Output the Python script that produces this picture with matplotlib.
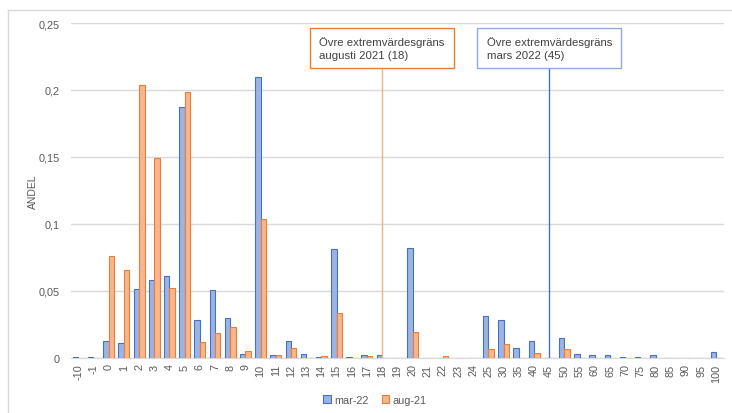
import numpy as np
import matplotlib.pyplot as plt
from matplotlib.patches import Rectangle
from matplotlib.lines import Line2D

plt.rcParams['font.family'] = ['Liberation Sans', 'DejaVu Sans']

# Share per value class, two measurement rounds
categories = ['-10', '-1', '0', '1', '2', '3', '4', '5', '6', '7', '8', '9', '10',
              '11', '12', '13', '14', '15', '16', '17', '18', '19', '20', '21', '22',
              '23', '24', '25', '30', '35', '40', '45', '50', '55', '60', '65', '70',
              '75', '80', '85', '90', '95', '100']
mar22 = [0.0007, 0.0007, 0.0125, 0.011, 0.0512, 0.0584, 0.061, 0.187, 0.0286, 0.0505,
         0.0298, 0.0028, 0.2097, 0.002, 0.0125, 0.0028, 0.0007, 0.081, 0.0007, 0.002,
         0.002, 0, 0.0818, 0, 0, 0, 0, 0.031, 0.0286, 0.0077, 0.0125, 0, 0.0152,
         0.0028, 0.002, 0.002, 0.0007, 0.0007, 0.002, 0, 0, 0, 0.0042]
aug21 = [0, 0, 0.0759, 0.0654, 0.204, 0.149, 0.052, 0.1985, 0.0117, 0.0187, 0.0229,
         0.005, 0.1035, 0.002, 0.0072, 0, 0.0012, 0.0333, 0, 0.0012, 0, 0, 0.0194, 0,
         0.0012, 0, 0, 0.007, 0.0102, 0, 0.0035, 0, 0.007, 0, 0, 0, 0, 0, 0, 0, 0, 0, 0]
yticks = [0, 0.05, 0.1, 0.15, 0.2, 0.25]
ytick_labels = ['0', '0,05', '0,1', '0,15', '0,2', '0,25']

# Upper outlier limits
limits = [('18', 'Övre extremvärdesgräns\naugusti 2021 (18)', '#ED7D31', '#F4B183'),
          ('45', 'Övre extremvärdesgräns\nmars 2022 (45)', '#8FAADC', '#4472C4')]

BLUE_FILL, BLUE_EDGE = '#9DB3E2', '#4472C4'
ORANGE_FILL, ORANGE_EDGE = '#F6B690', '#ED7D31'
GREY = '#595959'

fig = plt.figure(figsize=(7.32, 4.14), dpi=100)
ax = fig.add_axes([0.0966, 0.133, 0.8924, 0.809])

x = np.arange(len(categories))
w = 0.36
ax.bar(x - w / 2, mar22, w, color=BLUE_FILL, edgecolor=BLUE_EDGE, linewidth=0.8,
       label='mar-22', zorder=3)
ax.bar(x + w / 2, aug21, w, color=ORANGE_FILL, edgecolor=ORANGE_EDGE, linewidth=0.8,
       label='aug-21', zorder=3)

ax.set_xlim(-0.5, len(categories) - 0.5)
ax.set_ylim(0, 0.25)
ax.set_xticks(x)
ax.set_xticklabels(categories, rotation=90, fontsize=7.8, color=GREY)
ax.set_yticks(yticks)
ax.set_yticklabels(ytick_labels, fontsize=7.8, color=GREY)
ax.tick_params(axis='both', length=0)
ax.tick_params(axis='y', pad=8)
ax.tick_params(axis='x', pad=4)
ax.grid(axis='y', color='#D9D9D9', linewidth=1, zorder=0)
for s in ['top', 'right', 'left']:
    ax.spines[s].set_visible(False)
ax.spines['bottom'].set_color('#D9D9D9')
ax.set_ylabel('ANDEL', fontsize=7.5, color=GREY)
ax.yaxis.set_label_coords(-0.050, 0.5)

# Limit lines with labelled boxes
box_w, box_bottom, box_top = 9.45, 0.2162, 0.2462
for cat, text, box_edge, line_col in limits:
    i = categories.index(cat)
    ax.plot([i, i], [0, box_bottom], color=line_col, linewidth=1, zorder=4)
    ax.add_patch(Rectangle((i - box_w / 2, box_bottom), box_w, box_top - box_bottom,
                           facecolor='white', edgecolor=box_edge, linewidth=1, zorder=5))
    ax.text(i - box_w / 2 + 0.6, (box_bottom + box_top) / 2, text, fontsize=8.2,
            color='#404040', va='center', ha='left', linespacing=1.4, zorder=6)

fig.legend(loc='center', bbox_to_anchor=(375 / 732, 1 - 401 / 414), ncol=2,
           frameon=False, fontsize=7.8, labelcolor=GREY, handlelength=0.7,
           handleheight=0.7, handletextpad=0.3, columnspacing=1.2)

# Chart frame
fig.add_artist(Line2D([8 / 732, 8 / 732], [0, 1 - 11 / 414], color='#D9D9D9', linewidth=1))
fig.add_artist(Line2D([8 / 732, 1], [1 - 11 / 414, 1 - 11 / 414], color='#D9D9D9', linewidth=1))

fig.savefig('out.png', dpi=100)
